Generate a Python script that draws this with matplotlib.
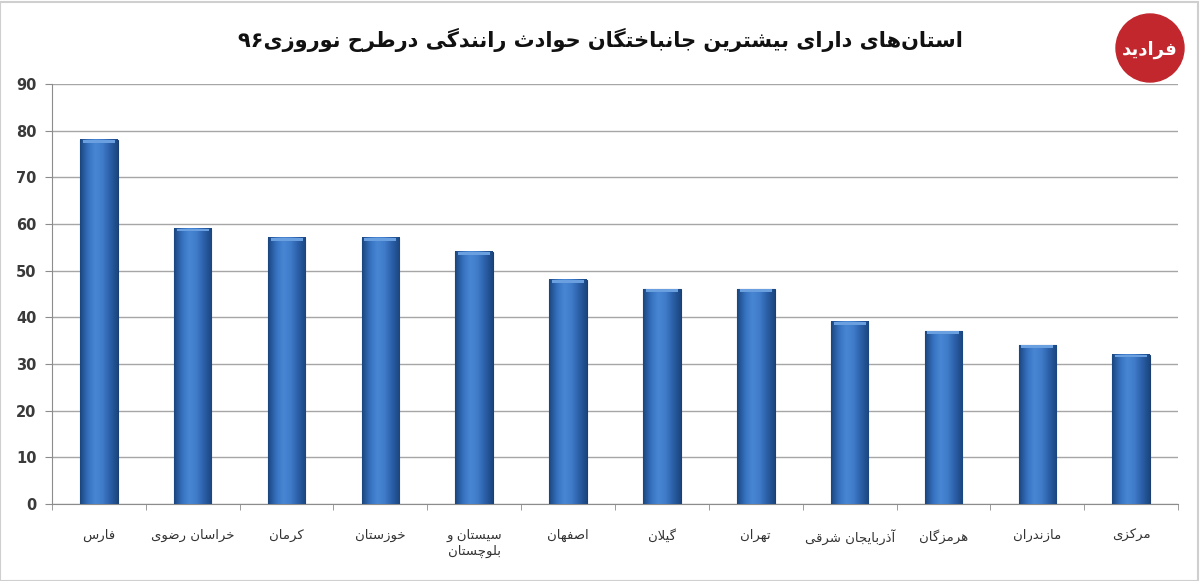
import numpy as np
import matplotlib
matplotlib.use('Agg')
from matplotlib import pyplot as plt
from matplotlib.colors import LinearSegmentedColormap
from matplotlib.patches import Ellipse, Rectangle

title = 'استان‌های دارای بیشترین جانباختگان حوادث رانندگی درطرح نوروزی۹۶'
provinces = ['فارس', 'خراسان رضوی', 'کرمان', 'خوزستان', 'سیستان و\nبلوچستان',
             'اصفهان', 'گیلان', 'تهران', 'آذربایجان شرقی', 'هرمزگان',
             'مازندران', 'مرکزی']
deaths = [78, 59, 57, 57, 54, 48, 46, 46, 39, 37, 34, 32]
yticks = [0, 10, 20, 30, 40, 50, 60, 70, 80, 90]

# matplotlib has no arabic shaping, so pick presentation forms by hand
# (isolated, final, initial, medial); two entries = joins only to the right
FORMS = {
    'ا': (0xFE8D, 0xFE8E), 'آ': (0xFE81, 0xFE82), 'أ': (0xFE83, 0xFE84),
    'ب': (0xFE8F, 0xFE90, 0xFE91, 0xFE92), 'پ': (0xFB56, 0xFB57, 0xFB58, 0xFB59),
    'ت': (0xFE95, 0xFE96, 0xFE97, 0xFE98), 'ث': (0xFE99, 0xFE9A, 0xFE9B, 0xFE9C),
    'ج': (0xFE9D, 0xFE9E, 0xFE9F, 0xFEA0), 'چ': (0xFB7A, 0xFB7B, 0xFB7C, 0xFB7D),
    'ح': (0xFEA1, 0xFEA2, 0xFEA3, 0xFEA4), 'خ': (0xFEA5, 0xFEA6, 0xFEA7, 0xFEA8),
    'د': (0xFEA9, 0xFEAA), 'ذ': (0xFEAB, 0xFEAC), 'ر': (0xFEAD, 0xFEAE),
    'ز': (0xFEAF, 0xFEB0), 'ژ': (0xFB8A, 0xFB8B),
    'س': (0xFEB1, 0xFEB2, 0xFEB3, 0xFEB4), 'ش': (0xFEB5, 0xFEB6, 0xFEB7, 0xFEB8),
    'ص': (0xFEB9, 0xFEBA, 0xFEBB, 0xFEBC), 'ض': (0xFEBD, 0xFEBE, 0xFEBF, 0xFEC0),
    'ط': (0xFEC1, 0xFEC2, 0xFEC3, 0xFEC4), 'ظ': (0xFEC5, 0xFEC6, 0xFEC7, 0xFEC8),
    'ع': (0xFEC9, 0xFECA, 0xFECB, 0xFECC), 'غ': (0xFECD, 0xFECE, 0xFECF, 0xFED0),
    'ف': (0xFED1, 0xFED2, 0xFED3, 0xFED4), 'ق': (0xFED5, 0xFED6, 0xFED7, 0xFED8),
    'ک': (0xFB8E, 0xFB8F, 0xFB90, 0xFB91), 'گ': (0xFB92, 0xFB93, 0xFB94, 0xFB95),
    'ل': (0xFEDD, 0xFEDE, 0xFEDF, 0xFEE0), 'م': (0xFEE1, 0xFEE2, 0xFEE3, 0xFEE4),
    'ن': (0xFEE5, 0xFEE6, 0xFEE7, 0xFEE8), 'و': (0xFEED, 0xFEEE),
    'ه': (0xFEE9, 0xFEEA, 0xFEEB, 0xFEEC), 'ی': (0xFBFC, 0xFBFD, 0xFBFE, 0xFBFF),
    'لا': (0xFEFB, 0xFEFC), 'لآ': (0xFEF5, 0xFEF6),
}
DIGITS = '0123456789۰۱۲۳۴۵۶۷۸۹'


def rtl(text):
    lines = []
    for line in text.split('\n'):
        toks = []
        i = 0
        while i < len(line):
            if line[i] == 'ل' and line[i+1:i+2] in ('ا', 'آ'):
                toks.append(line[i:i+2])
                i += 2
            else:
                toks.append(line[i])
                i += 1
        out = []
        for k, t in enumerate(toks):
            if t not in FORMS:
                if t != '\u200c':
                    out.append(t)
                continue
            prev = toks[k-1] if k > 0 else None
            nxt = toks[k+1] if k + 1 < len(toks) else None
            pj = prev in FORMS and len(FORMS[prev]) == 4
            nj = nxt in FORMS and len(FORMS[t]) == 4
            f = FORMS[t]
            if pj and nj:
                out.append(chr(f[3]))
            elif pj:
                out.append(chr(f[1]))
            elif nj:
                out.append(chr(f[2]))
            else:
                out.append(chr(f[0]))
        # reverse for display, digit runs stay left to right
        s = ''.join(out[::-1])
        res, run = '', ''
        for ch in s:
            if ch in DIGITS:
                run += ch
            else:
                res += run[::-1] + ch
                run = ''
        res += run[::-1]
        lines.append(res)
    return '\n'.join(lines)


plt.rcParams['font.family'] = ['DejaVu Sans']

fig = plt.figure(figsize=(12, 5.81), dpi=100)
ax = fig.add_axes([0.0433, 0.1325, 0.9384, 0.7229])

x = np.arange(len(deaths))
bars = ax.bar(x, deaths, width=0.4, color='#3a75c2', edgecolor='#1b3f73',
              linewidth=0.8, zorder=2)

grad = LinearSegmentedColormap.from_list(
    'bar', ['#1b467f', '#3470bd', '#4886d4', '#3f7bc8', '#2b5fa8', '#1b467f'])
shade = np.linspace(0, 1, 64).reshape(1, -1)
for b in bars:
    x0, y0 = b.get_xy()
    ax.imshow(shade, extent=[x0, x0 + b.get_width(), y0, y0 + b.get_height()],
              aspect='auto', cmap=grad, clip_path=b, zorder=3)
    top = b.get_height()
    ax.fill_between([x0 + 0.03, x0 + b.get_width() - 0.03], top - 0.6, top,
                    color='#6a9fe0', linewidth=0, zorder=4)

ax.set_xlim(-0.5, len(deaths) - 0.5)
ax.set_ylim(0, 90)
ax.set_yticks(yticks)
ax.set_xticks(x)
ax.set_xticklabels([rtl(p) for p in provinces], fontsize=9.5, color='#333333',
                   linespacing=1.3, va='top')
ax.set_xticks(np.arange(len(deaths) + 1) - 0.5, minor=True)
ax.tick_params(axis='x', which='major', length=0, pad=18)
ax.tick_params(axis='x', which='minor', length=4, color='#8c8c8c')
ax.tick_params(axis='y', length=5, color='#8c8c8c', pad=6)
for lab in ax.get_yticklabels():
    lab.set_fontsize(10.5)
    lab.set_fontweight('bold')
    lab.set_color('#3a3a3a')

ax.grid(axis='y', color='#a6a6a6', linewidth=1, zorder=0)
ax.set_axisbelow(True)
for s in ['top', 'right']:
    ax.spines[s].set_visible(False)
ax.spines['left'].set_color('#8c8c8c')
ax.spines['bottom'].set_color('#8c8c8c')

fig.text(0.5, 0.932, rtl(title), ha='center', va='center', fontsize=15,
         fontweight='bold', color='#111111')

# logo
fig.add_artist(Ellipse((1150 / 1200, 1 - 48 / 581), 68 / 1200, 68 / 581,
                       transform=fig.transFigure, color='#c1272d'))
fig.text(1150 / 1200, 1 - 50 / 581, rtl('فرادید'), ha='center', va='center',
         fontsize=13, fontweight='bold', color='white')

fig.add_artist(Rectangle((0, 0), 0.998, 0.997, transform=fig.transFigure,
                         fill=False, edgecolor='#cfcfcf', linewidth=1.5))

fig.savefig('out.png', dpi=100)
